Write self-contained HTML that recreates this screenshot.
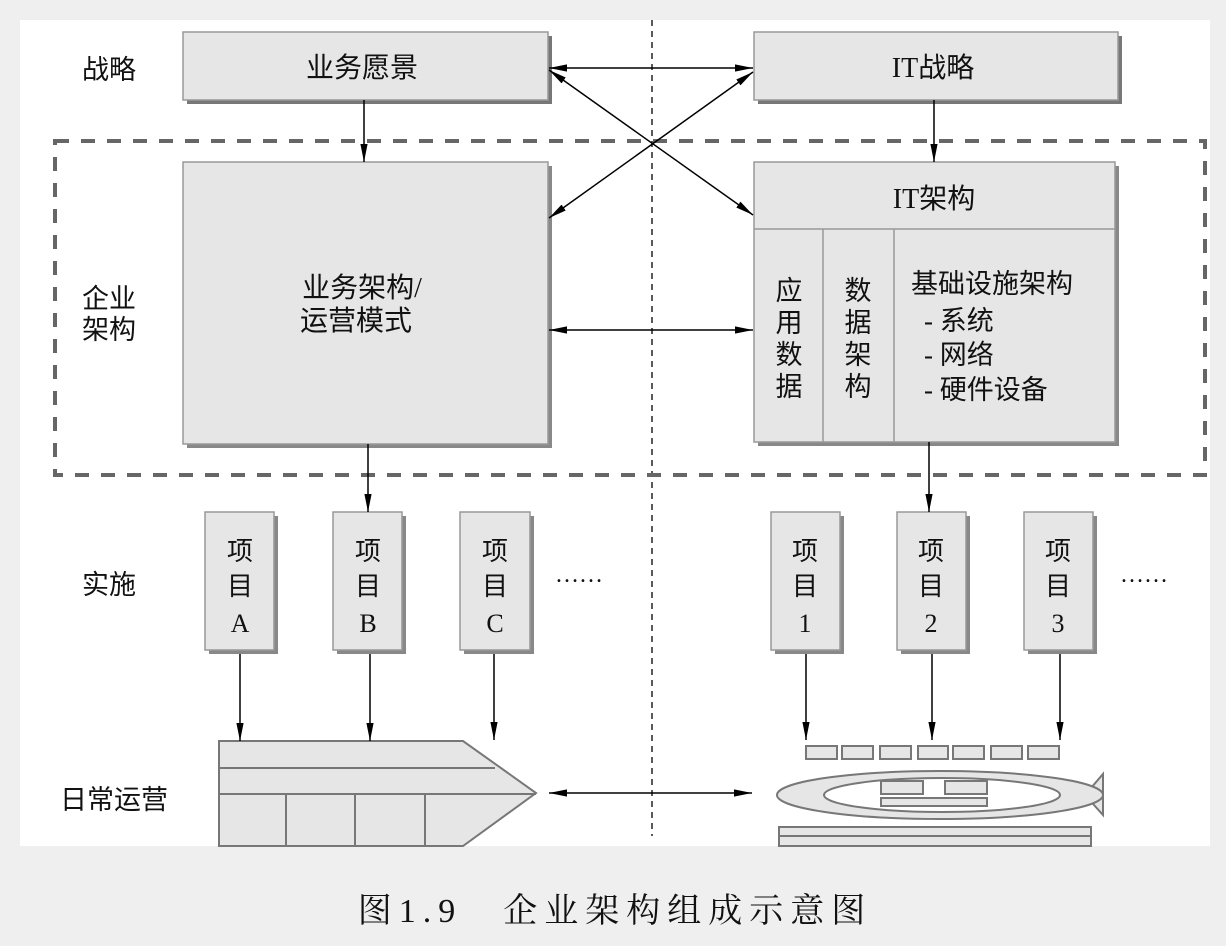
<!DOCTYPE html>
<html><head><meta charset="utf-8"><style>
body{margin:0;background:#efefef;}
svg{display:block}
text{font-family:"Liberation Serif","Noto Sans CJK SC",sans-serif;fill:#111;}
</style></head><body>
<svg width="1226" height="946" viewBox="0 0 1226 946" xmlns="http://www.w3.org/2000/svg">
<defs>
<marker id="b" viewBox="0 0 20 10" refX="20" refY="5" markerWidth="18" markerHeight="9" markerUnits="userSpaceOnUse" orient="auto-start-reverse"><path d="M0,1 L20,5 L0,9 Z" fill="#000"/></marker>
</defs>
<rect x="20" y="20" width="1190" height="826" fill="#fff"/>
<line x1="652" y1="20" x2="652" y2="836" stroke="#222" stroke-width="1.5" stroke-dasharray="6,5"/>
<rect x="55" y="141" width="1150" height="334" fill="none" stroke="#666" stroke-width="4" stroke-dasharray="14,12"/>
<g fill="#e6e6e6" stroke="#999" stroke-width="1.5">
<rect x="187" y="36" width="365" height="68" fill="#777" stroke="none"/>
<rect x="183" y="32" width="365" height="68"/>
<rect x="758" y="36" width="364" height="68" fill="#777" stroke="none"/>
<rect x="754" y="32" width="364" height="68"/>
<rect x="187" y="166" width="365" height="282" fill="#888" stroke="none"/>
<rect x="183" y="162" width="365" height="282"/>
<rect x="758" y="166" width="361" height="280" fill="#888" stroke="none"/>
<rect x="754" y="162" width="361" height="280"/>
<line x1="754" y1="229" x2="1115" y2="229"/>
<line x1="823" y1="229" x2="823" y2="442"/>
<line x1="894" y1="229" x2="894" y2="442"/>
<g>
<rect x="209" y="516" width="69" height="138" fill="#888" stroke="none"/><rect x="205" y="512" width="69" height="138"/>
<rect x="337" y="516" width="69" height="138" fill="#888" stroke="none"/><rect x="333" y="512" width="69" height="138"/>
<rect x="464" y="516" width="70" height="138" fill="#888" stroke="none"/><rect x="460" y="512" width="70" height="138"/>
<rect x="775" y="516" width="69" height="138" fill="#888" stroke="none"/><rect x="771" y="512" width="69" height="138"/>
<rect x="901" y="516" width="69" height="138" fill="#888" stroke="none"/><rect x="897" y="512" width="69" height="138"/>
<rect x="1028" y="516" width="69" height="138" fill="#888" stroke="none"/><rect x="1024" y="512" width="69" height="138"/>
</g>
</g>
<g stroke="#777" stroke-width="2" fill="#e6e6e6">
<path d="M219,741 L463,741 L536,793 L463,846 L219,846 Z"/>
<line x1="219" y1="768" x2="495" y2="768"/>
<line x1="219" y1="794" x2="536" y2="794"/>
<line x1="286" y1="794" x2="286" y2="846"/>
<line x1="355" y1="794" x2="355" y2="846"/>
<line x1="425" y1="794" x2="425" y2="846"/>
<rect x="806" y="746" width="31" height="13"/><rect x="842" y="746" width="31" height="13"/><rect x="880" y="746" width="31" height="13"/><rect x="918" y="746" width="30" height="13"/><rect x="953" y="746" width="31" height="13"/><rect x="991" y="746" width="31" height="13"/><rect x="1028" y="746" width="31" height="13"/>
<path d="M1085,795 L1103,774 L1103,815 Z"/>
<ellipse cx="940" cy="795" rx="163" ry="24"/>
<ellipse cx="942" cy="795" rx="118" ry="17" fill="#fff"/>
<rect x="881" y="781" width="42" height="13"/><rect x="945" y="781" width="42" height="13"/><rect x="881" y="798" width="106" height="8"/>
<rect x="779" y="827" width="312" height="19"/><line x1="779" y1="836" x2="1091" y2="836"/>
</g>
<g stroke="#000" stroke-width="1.5" fill="none">
<line x1="364" y1="100" x2="364" y2="162" marker-end="url(#b)"/>
<line x1="934" y1="100" x2="934" y2="162" marker-end="url(#b)"/>
<line x1="368" y1="444" x2="368" y2="512" marker-end="url(#b)"/>
<line x1="929" y1="442" x2="929" y2="512" marker-end="url(#b)"/>
<line x1="549" y1="68" x2="753" y2="68" marker-start="url(#b)" marker-end="url(#b)"/>
<line x1="549" y1="70" x2="753" y2="215" marker-start="url(#b)" marker-end="url(#b)"/>
<line x1="753" y1="72" x2="549" y2="218" marker-start="url(#b)" marker-end="url(#b)"/>
<line x1="549" y1="330" x2="753" y2="330" marker-start="url(#b)" marker-end="url(#b)"/>
<line x1="549" y1="793" x2="752" y2="793" marker-start="url(#b)" marker-end="url(#b)"/>
<line x1="240" y1="654" x2="240" y2="741" marker-end="url(#b)"/>
<line x1="370" y1="654" x2="370" y2="741" marker-end="url(#b)"/>
<line x1="494" y1="654" x2="494" y2="740" marker-end="url(#b)"/>
<line x1="806" y1="654" x2="806" y2="740" marker-end="url(#b)"/>
<line x1="932" y1="654" x2="932" y2="740" marker-end="url(#b)"/>
<line x1="1060" y1="654" x2="1060" y2="740" marker-end="url(#b)"/>
</g>
<g font-size="27">
<text x="82" y="79">战略</text>
<text x="82" y="308">企业</text>
<text x="82" y="339">架构</text>
<text x="82" y="594">实施</text>
<text x="60" y="809">日常运营</text>
<text x="362" y="77" text-anchor="middle" font-size="28">业务愿景</text>
<text x="933" y="77" text-anchor="middle" font-size="28">IT战略</text>
<text x="934" y="208" text-anchor="middle" font-size="28">IT架构</text>
<text x="362" y="297" text-anchor="middle" font-size="28">业务架构/</text>
<text x="356" y="330" text-anchor="middle" font-size="28">运营模式</text>
<g text-anchor="middle">
<text x="789" y="300">应</text><text x="789" y="332">用</text><text x="789" y="364">数</text><text x="789" y="396">据</text>
<text x="858" y="300">数</text><text x="858" y="332">据</text><text x="858" y="364">架</text><text x="858" y="396">构</text>
</g>
<text x="911" y="293">基础设施架构</text>
<text x="924" y="330">- 系统</text>
<text x="924" y="364">- 网络</text>
<text x="924" y="399">- 硬件设备</text>
<g text-anchor="middle" font-size="26">
<text x="240" y="560">项</text><text x="240" y="595">目</text><text x="240" y="632">A</text>
<text x="368" y="560">项</text><text x="368" y="595">目</text><text x="368" y="632">B</text>
<text x="495" y="560">项</text><text x="495" y="595">目</text><text x="495" y="632">C</text>
<text x="805" y="560">项</text><text x="805" y="595">目</text><text x="805" y="632">1</text>
<text x="931" y="560">项</text><text x="931" y="595">目</text><text x="931" y="632">2</text>
<text x="1058" y="560">项</text><text x="1058" y="595">目</text><text x="1058" y="632">3</text>
</g>
<text x="555" y="582" font-size="24">……</text>
<text x="1120" y="582" font-size="24">……</text>
</g>
<text x="615" y="922" font-size="34" text-anchor="middle" letter-spacing="7" fill="#333" style='font-family:"Liberation Serif","Noto Serif CJK SC",serif'>图1.9　企业架构组成示意图</text>
</svg>
</body></html>
